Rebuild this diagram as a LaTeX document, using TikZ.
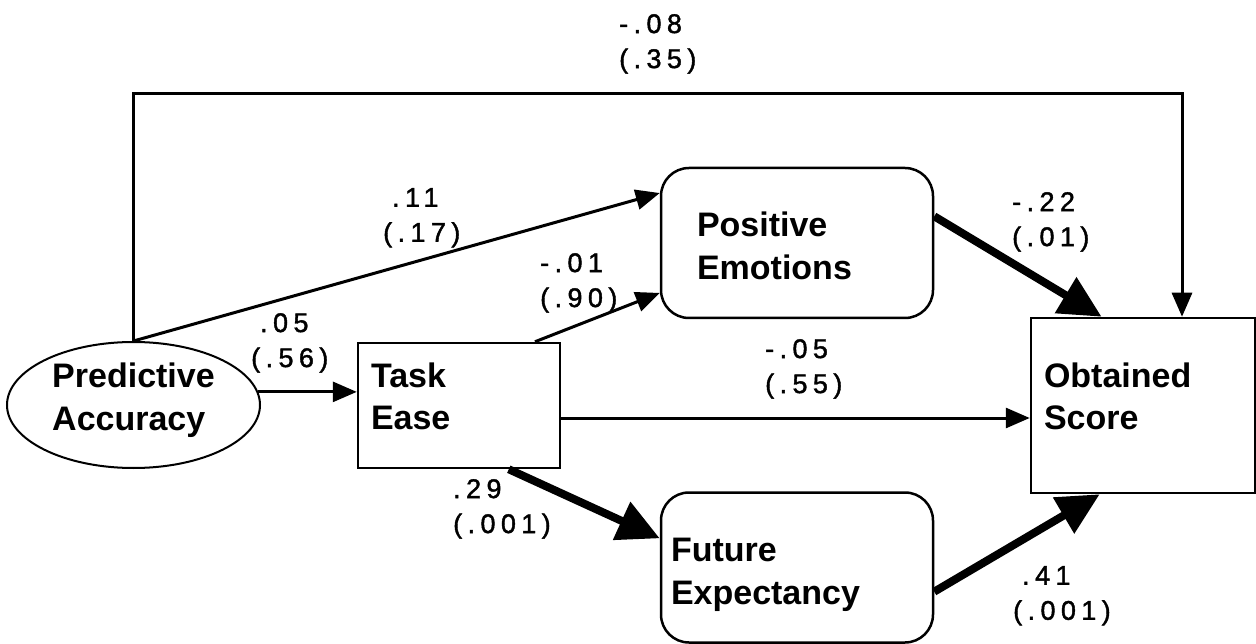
\documentclass[tikz,border=0pt]{standalone}
\usepackage{fontspec}
\setmainfont{Liberation Sans}
\newfontfamily\coeffont[LetterSpace=20,FakeBold=1.5]{Liberation Sans}
\usetikzlibrary{arrows.meta,shapes.geometric}

\begin{document}
\begin{tikzpicture}[x=1pt, y=-1pt,
	box/.style={draw, rectangle, line width=2.5pt, inner ysep=0pt, align=left,
		font=\fontsize{34}{43}\selectfont\bfseries, text height=24pt, text depth=61pt},
	rbox/.style={box, rounded corners=28pt, text depth=36pt},
	coef/.style={inner sep=0pt, anchor=north west, align=left,
		font=\coeffont\fontsize{27}{35}\selectfont},
	thinarr/.style={line width=3pt, -{Triangle[length=24pt,width=20pt]}},
	thickarr/.style={line width=8pt, -{Triangle[length=42pt,width=40pt]}}]
			%%%%% START %%%%%
			\useasboundingbox (0,0) rectangle (1256,644);
			
			\node[box, ellipse, line width=2pt, inner xsep=0pt, text height=67pt, text depth=17pt, minimum width=253pt, minimum height=126pt] (pa) at (133.5,405) {Predictive\\Accuracy};
			\node[box, minimum width=202pt, minimum height=125pt, text width=176pt, inner xsep=13pt] (te) at (459,405.5) {Task\\Ease};
			\node[rbox, minimum width=272pt, minimum height=150pt, text width=200pt, inner xsep=36pt] (pe) at (797,243) {Positive\\Emotions};
			\node[rbox, minimum width=272pt, minimum height=150pt, text width=252pt, inner xsep=10pt] (fe) at (797,567.5) {Future\\Expectancy};
			\node[box, minimum width=224pt, minimum height=175pt, text width=198pt, inner xsep=13pt] (os) at (1143,405.5) {Obtained\\Score};
			
			\coordinate (ridge) at (640,94);
			
			\draw[thinarr] (pa.north) |- (ridge) -| ([xshift=39pt]os.north);
			\draw[thinarr] (pa.north) -- (pe.160);
			\draw[thinarr] (pa.6) -- (pa.6 -| te.west);
			\draw[thinarr] (te.40) -- (pe.200);
			\draw[thinarr] ([yshift=-12.5pt]te.east) -- ([yshift=-12.5pt]os.west);
			\draw[thickarr] (te.-52) -- (fe.168);
			\draw[thickarr] (pe.11) -- (os.115);
			\draw[thickarr] (fe.-10) -- (os.-116);
			
			\node[coef] (c08) at (619,14) {-.08\\(.35)};
			\node[coef] (c11) at (383,188) {\hphantom{(}.11\\(.17)};
			\node[coef] (c01) at (540,253) {-.01\\(.90)};
			\node[coef] (c22) at (1012,192) {-.22\\(.01)};
			\node[coef] (c05) at (251,313) {\hphantom{(}.05\\(.56)};
			\node[coef] (c29) at (453,479) {.29\\(.001)};
			\node[coef] (c55) at (765,339) {-.05\\(.55)};
			\node[coef] (c41) at (1013,566) {\hphantom{(}.41\\(.001)};
			%%%%% END %%%%%
\end{tikzpicture}
\end{document}
